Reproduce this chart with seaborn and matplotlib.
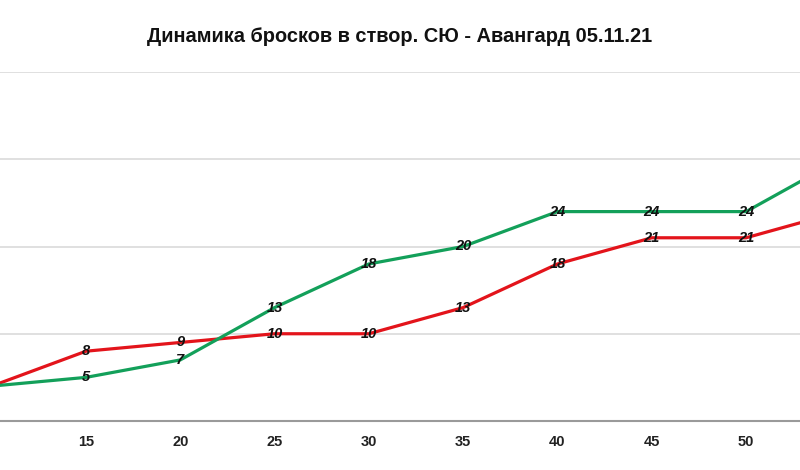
import pandas as pd
import numpy as np
import matplotlib
matplotlib.use("Agg")
import matplotlib.pyplot as plt
import seaborn as sns

# minutes and shots on goal
minutes = [10, 15, 20, 25, 30, 35, 40, 45, 50, 55]
shots_red = [4, 8, 9, 10, 10, 13, 18, 21, 21, 24]
shots_green = [4, 5, 7, 13, 18, 20, 24, 24, 24, 30]
series_names = ["СЮ", "Авангард"]
tick_labels = ["10", "15", "20", "25", "30", "35", "40", "45", "50", "55"]

df = pd.DataFrame({
    "minute": minutes * 2,
    "shots": shots_red + shots_green,
    "team": [series_names[0]] * len(minutes) + [series_names[1]] * len(minutes),
})

sns.set_style("white")
plt.rcParams["font.family"] = ["Liberation Sans", "DejaVu Sans"]

fig = plt.figure(figsize=(8, 4.7), dpi=100)
ax = fig.add_axes([0, 49 / 470, 1, 349 / 470])

sns.lineplot(data=df, x="minute", y="shots", hue="team",
             palette=["#e3141b", "#13a05a"], linewidth=2.3,
             legend=False, ax=ax)

x_min, x_max = 10.44, 52.86

# data labels (only those inside the visible window)
for i, m in enumerate(minutes):
    if m < x_min or m > x_max:
        continue
    for vals in (shots_red, shots_green):
        ax.text(m, vals[i], str(vals[i]), ha="center", va="center",
                fontsize=10.5, fontweight="bold", fontstyle="italic",
                color="#111111", zorder=5)

ax.set_xticks(minutes)
ax.set_xticklabels(tick_labels, fontsize=10.5, fontweight="bold", color="#222222")
ax.tick_params(axis="x", length=0, pad=10)
ax.set_yticks([0, 10, 20, 30, 40])
ax.set_yticklabels([])
ax.tick_params(axis="y", length=0)
ax.set_xlim(x_min, x_max)
ax.set_ylim(0, 40)
ax.grid(axis="y", color="#dddddd", linewidth=1.3)
ax.set_axisbelow(True)
for s in ["top", "left", "right"]:
    ax.spines[s].set_visible(False)
ax.spines["bottom"].set_color("#9a9a9a")
ax.spines["bottom"].set_linewidth(1.5)
ax.set_xlabel("")
ax.set_ylabel("")

fig.text(0.5, 1 - 37 / 470, "Динамика бросков в створ. СЮ - Авангард 05.11.21",
         ha="center", va="center", fontsize=14.4, fontweight="bold", color="#111111")

fig.savefig("out.png", dpi=100)
